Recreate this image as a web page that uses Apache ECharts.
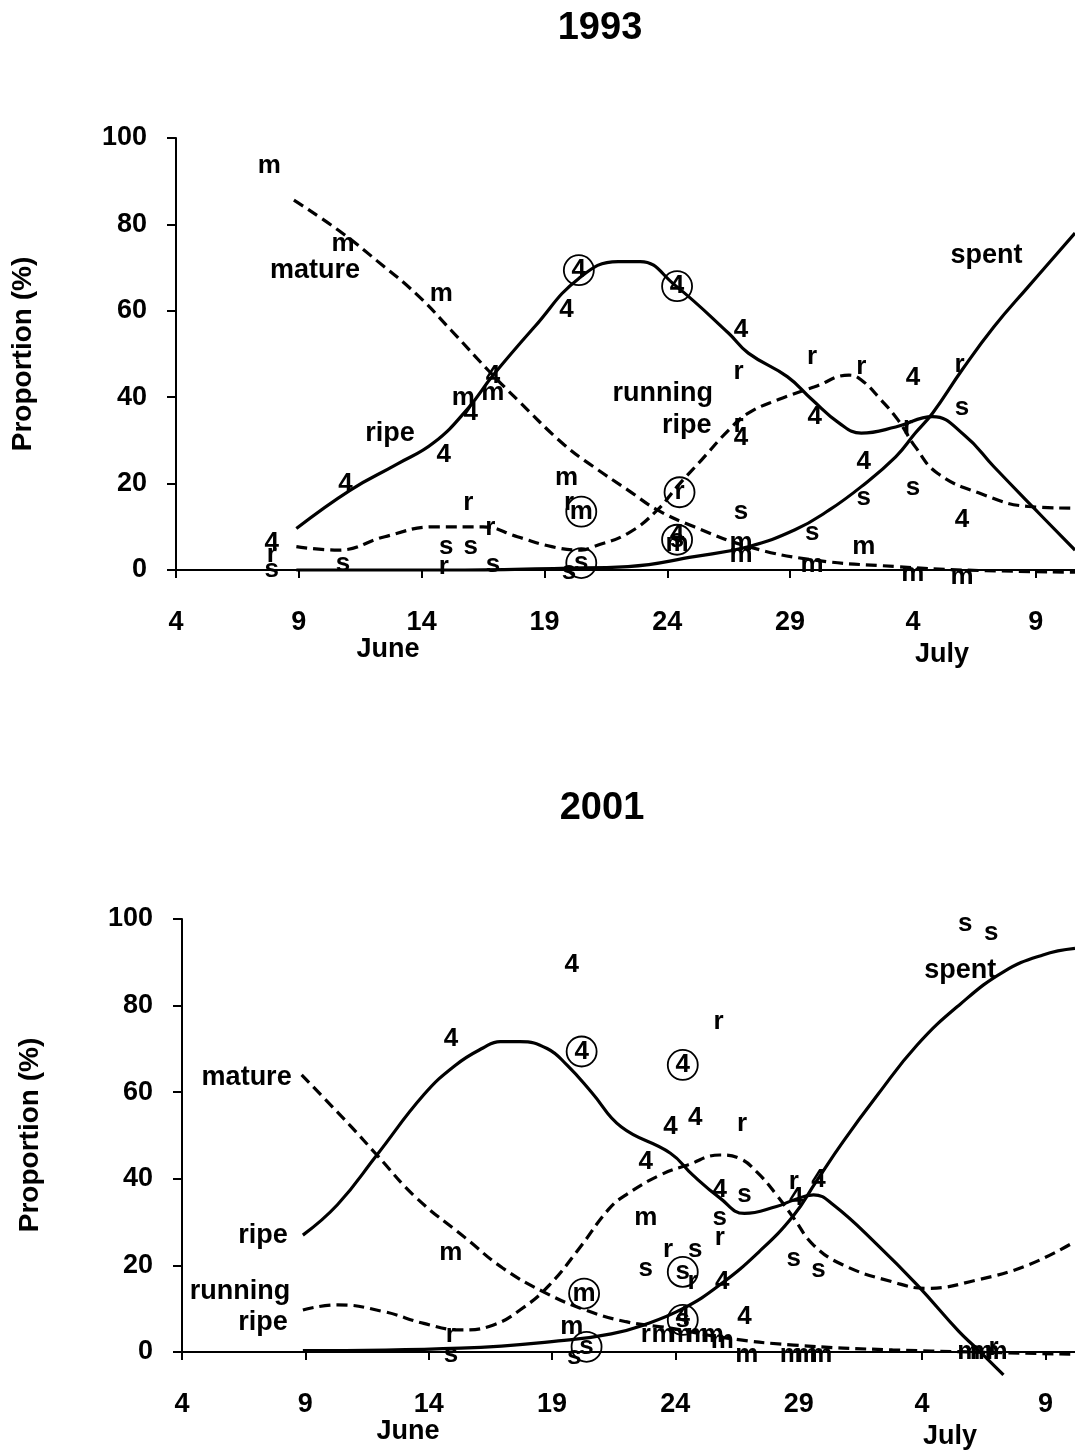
<!DOCTYPE html>
<html>
<head>
<meta charset="utf-8">
<script src="https://cdn.jsdelivr.net/npm/echarts@6/dist/echarts.min.js"></script>
<style>html,body{margin:0;padding:0;background:#fff}#c{width:1075px;height:1454px}</style>
</head>
<body>
<div id="c"></div>
<script>
// ---- tick labels ----
const tickDays = [4, 9, 14, 19, 24, 29, 34, 39];
const tickLabels = ['4', '9', '14', '19', '24', '29', '4', '9'];

// ---- 1993 curves [day, %] (day 31 = 1 July) ----
const ripe1993 = [[8.9,9.6],[11.1,18.5],[13,24.5],[14.5,29.5],[15.9,37.5],[16.9,45],[18.6,56.3],[20.4,67.5],[22,71.4],[22.9,71.4],[24.3,66],[26.5,54.8],[27.3,50.2],[28.9,44.7],[29.9,39.4],[31,34],[31.9,31.7],[33.3,33.1],[34.8,35.5],[36.1,31.2],[37.3,23.9],[39,13.9],[40.6,4.6]];
const mature1993 = [[8.8,85.6],[10.6,78.7],[12.2,71.5],[13.8,63.8],[15.2,55.5],[16.7,46.3],[17.9,39.4],[19.8,29],[21,23.9],[22.4,18.5],[23.6,13.9],[25.1,10],[27.3,5.4],[30,2.3],[33.3,0.8],[36,0],[40.6,-0.5]];
const running1993 = [[8.9,5.4],[10.6,4.6],[12.5,7.7],[14.5,10],[16.5,10],[17.9,7.7],[19.3,5.4],[20.5,4.6],[21,5.4],[22.4,8.5],[23.6,13.9],[24.4,19.3],[25.4,25.5],[26.5,32.4],[27.3,36.3],[28.5,39.4],[30,42.4],[31.4,45.1],[31.9,44],[32.7,39.4],[33.4,34.7],[34.1,28.5],[35,22.4],[36.7,17.8],[38.7,14.7],[40.6,14.3]];
const spent1993 = [[8.9,0],[15,0],[19.7,0.4],[22.4,0.8],[25.1,3.1],[27.3,5.4],[29.2,9.3],[30.6,13.9],[31.9,19.3],[33.3,26.2],[34.1,31.7],[34.8,36.3],[36,46.3],[37.3,56.3],[38.7,65.6],[40.6,78]];

// ---- 2001 curves ----
const ripe2001 = [[8.9,27],[10.3,34],[11.9,45.5],[13.8,59.4],[15.1,66.3],[16.2,70.2],[16.9,71.7],[17.7,71.7],[18.8,70.1],[19.6,66.3],[20.6,60],[21.8,52],[23.8,45.9],[24.7,40.9],[25.8,35.6],[26.8,32],[28.1,33.6],[28.8,35.1],[29.6,36.3],[30.4,34],[32.2,24.7],[33.8,15.5],[35.5,4.7],[36.2,0.9],[37.3,-5.3]];
const mature2001 = [[8.85,64],[10.8,52.4],[11.9,45.5],[13.5,35.6],[15.5,26.3],[17,19.4],[18.65,13.9],[20.3,9.8],[22,7],[23.8,5.5],[26.1,3.2],[28.8,1.6],[32.8,0.5],[40.2,-0.5]];
const running2001 = [[8.9,9.7],[10.3,10.9],[12.2,9.3],[13.8,6.6],[15.3,5.1],[16.6,6.2],[17.8,10.1],[18.9,15.5],[20.1,23.9],[21.3,33],[22,36.3],[23.4,40.9],[24.5,43.2],[25.8,45.5],[26.6,44.7],[27.3,41.6],[28.1,36.3],[28.8,30.9],[29.6,24.7],[30.8,20.1],[32.8,16.2],[34.2,14.7],[36.2,16.6],[38.3,20.1],[40.2,25.5]];
const spent2001 = [[8.9,0.3],[15.3,0.9],[19.7,2.8],[21.4,4.2],[22.7,6.2],[24.3,10],[25.8,15.5],[27.4,23.2],[28.8,31.6],[29.7,39.3],[30.8,48.6],[32.2,59.4],[33.8,70.9],[35.5,80.1],[37.3,87.8],[38.9,91.7],[40.2,93.2]];

// ---- individual observations [stage letter, day, %] ----
const obs1993 = [['m',7.8,93.5],['m',10.8,75.5],['m',14.8,64],['4',7.9,6.2],['r',7.9,3.6],['s',7.9,0],['s',10.8,1.5],['4',10.9,20],['4',14.9,26.6],['4',16.0,36.3],['m',15.7,39.8],['m',16.9,41],['4',16.9,45],['r',15.9,15.5],['r',16.8,9.7],['s',15.0,5.4],['s',16.0,5.4],['r',14.9,0.8],['s',16.9,1.2],['m',19.9,21.3],['r',20.0,15.5],['4',19.9,60.2],['s',20.0,-0.5],['4',24.4,8.2],['m',24.4,6.0],['4',27.0,55.5],['r',26.9,45.8],['r',26.9,33.5],['4',27.0,30.5],['s',27.0,13.5],['m',27.0,6.2],['m',27.0,3.4],['r',29.9,49.4],['4',30.0,35.5],['s',29.9,8.6],['m',29.9,1.2],['r',31.9,47],['4',32.0,25],['s',32.0,16.6],['m',32.0,5.4],['4',34.0,44.4],['r',33.8,33.2],['s',34.0,19],['m',34.0,-0.9],['r',35.9,47.4],['s',36.0,37.5],['4',36.0,11.6],['m',36.0,-1.5]];
const circled1993 = [['m',20.5,13.5],['4',20.4,69.4],['s',20.5,1.6],['4',24.4,65.7],['r',24.5,18],['s',24.4,7]];
const obs2001 = [['4',19.8,89.4],['4',14.9,72.4],['r',25.75,76.3],['4',23.8,52],['4',24.8,54],['r',26.7,52.8],['4',22.8,43.9],['4',25.8,37.4],['s',26.8,36.3],['m',22.8,30.9],['s',25.8,30.9],['r',25.8,26.3],['r',28.8,39.3],['4',28.9,35.6],['4',29.8,39.7],['s',28.8,21.6],['s',29.8,19],['r',23.7,23.6],['s',24.8,23.6],['s',22.8,19.3],['r',24.7,16.2],['4',25.9,16.2],['m',14.9,22.8],['m',19.8,5.8],['s',19.9,-1],['r',14.9,3.9],['s',14.9,-0.7],['4',26.8,8.2],['4',24.3,8.2],['r',22.8,3.9],['m',23.5,3.9],['m',24.2,3.9],['m',24.9,3.9],['m',25.5,3.9],['m',25.9,2.5],['m',26.9,-0.7],['m',28.7,-0.7],['m',29.3,-0.7],['m',29.9,-0.7],['m',35.9,0],['m',36.4,0],['r',36.9,1],['m',37.0,0],['s',35.75,99],['s',36.8,96.7]];
const circled2001 = [['4',20.2,69.4],['4',24.3,66.3],['s',24.3,18.5],['m',20.3,13.5],['s',20.4,1.2],['s',24.3,7.4]];

// ---- in-plot curve names [text, day, %] ----
const names1993 = [['mature',9.66,69.4],['ripe',12.71,31.7],['running',23.82,40.9],['ripe',24.79,33.5],['spent',37.0,72.8]];
const names2001 = [['mature',6.62,63.3],['ripe',7.28,27.0],['running',6.35,13.9],['ripe',7.28,6.7],['spent',35.55,88.2]];

const FONT = '"Liberation Sans", Arial, Helvetica, sans-serif';
const chart = echarts.init(document.getElementById('c'), null, {renderer: 'canvas'});

function xAxis(g, max) {
  return {
    gridIndex: g, type: 'value', min: 4, max: max,
    axisLine: {show: true, onZero: false, lineStyle: {color: '#000', width: 2}},
    axisTick: {show: true, length: 8, customValues: tickDays, lineStyle: {color: '#000', width: 2}},
    axisLabel: {customValues: tickDays, margin: 39, color: '#000', fontSize: 27, fontWeight: 'bold', fontFamily: FONT,
      formatter: v => { const i = tickDays.indexOf(v); return i >= 0 ? tickLabels[i] : ''; }},
    splitLine: {show: false}
  };
}
function yAxis(g) {
  return {
    gridIndex: g, type: 'value', min: 0, max: 100, interval: 20,
    axisLine: {show: true, lineStyle: {color: '#000', width: 2}},
    axisTick: {show: true, length: 9, lineStyle: {color: '#000', width: 2}},
    axisLabel: {margin: 29, color: '#000', fontSize: 27, fontWeight: 'bold', fontFamily: FONT},
    splitLine: {show: false}
  };
}
function curve(data, g, dashed) {
  return {
    type: 'line', xAxisIndex: g, yAxisIndex: g, data: data, smooth: 0.45,
    showSymbol: false, symbol: 'none', clip: false, silent: true, z: 3,
    lineStyle: {color: '#000', width: 3.2, type: dashed ? [11, 6] : 'solid', cap: 'butt'}
  };
}
function marks(list, g, circled, size) {
  return {
    type: 'scatter', xAxisIndex: g, yAxisIndex: g, clip: false, silent: true, z: 5,
    symbol: 'circle', symbolSize: circled ? 30 : 1,
    itemStyle: circled ? {color: 'rgba(255,255,255,0)', borderColor: '#000', borderWidth: 1.8, opacity: 1} : {color: 'rgba(0,0,0,0)'},
    label: {show: true, position: 'inside', formatter: p => p.name, color: '#000', opacity: 1,
      textBorderWidth: 0, textBorderColor: 'transparent',
      fontSize: size || 26, fontWeight: 'bold', fontFamily: FONT},
    data: list.map(d => ({name: d[0], value: [d[1], d[2]]}))
  };
}
function txt(text, x, y, size, rot) {
  return {type: 'text', x: x, y: y, rotation: rot || 0, silent: true,
    style: {text: text, fill: '#000', font: 'bold ' + size + 'px ' + FONT,
      align: 'center', verticalAlign: 'middle', textAlign: 'center', textVerticalAlign: 'middle'}};
}

chart.setOption({
  animation: false,
  backgroundColor: '#fff',
  grid: [
    {left: 176, top: 138, width: 899, height: 432},
    {left: 182, top: 919, width: 893, height: 433}
  ],
  xAxis: [xAxis(0, 40.6), xAxis(1, 40.2)],
  yAxis: [yAxis(0), yAxis(1)],
  graphic: [
    txt('1993', 600, 29, 38),
    txt('2001', 602, 809, 38),
    txt('Proportion (%)', 23, 354, 28, Math.PI / 2),
    txt('Proportion (%)', 30, 1135, 28, Math.PI / 2),
    txt('June', 388, 650, 27),
    txt('July', 942, 655, 27),
    txt('June', 408, 1432, 27),
    txt('July', 950, 1437, 27)
  ],
  series: [
    curve(ripe1993, 0, false), curve(mature1993, 0, true), curve(running1993, 0, true), curve(spent1993, 0, false),
    curve(ripe2001, 1, false), curve(mature2001, 1, true), curve(running2001, 1, true), curve(spent2001, 1, false),
    marks(obs1993, 0, false), marks(circled1993, 0, true),
    marks(obs2001, 1, false), marks(circled2001, 1, true),
    marks(names1993, 0, false, 27), marks(names2001, 1, false, 27)
  ]
});
</script>
</body>
</html>
